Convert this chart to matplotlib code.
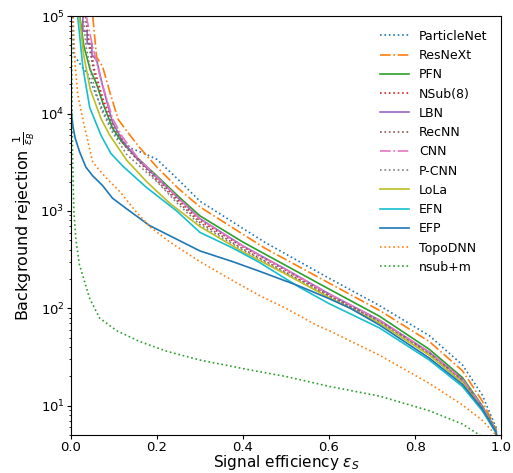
import matplotlib
matplotlib.use('Agg')
import matplotlib.pyplot as plt

# values: signal efficiency and background rejection
eps_pn = [0.004, 0.006, 0.012, 0.023, 0.04, 0.06, 0.085, 0.11, 0.14, 0.17, 0.2, 0.25, 0.3, 0.45, 0.6, 0.717, 0.833, 0.91, 0.956, 0.988, 1.0]
rej_pn = [200000, 40000, 37000, 31600, 25000, 15000, 8500, 5500, 4400, 3900, 3390, 2090, 1260, 479, 204, 107, 52.5, 26.3, 12.9, 6.0, 1.0]

eps_resnext = [0.045, 0.051, 0.06, 0.074, 0.09, 0.11, 0.13, 0.16, 0.2, 0.25, 0.3, 0.45, 0.6, 0.717, 0.833, 0.91, 0.956, 0.988, 1.0]
rej_resnext = [200000, 100000, 38000, 30200, 17000, 8710, 6610, 4470, 2820, 1700, 1100, 417, 182, 95.5, 45.7, 22.9, 11.2, 5.75, 1.0]

eps_pfn = [0.018, 0.021, 0.03, 0.045, 0.06, 0.075, 0.097, 0.12, 0.153, 0.2, 0.25, 0.3, 0.4, 0.5, 0.6, 0.717, 0.833, 0.91, 0.956, 0.988, 1.0]
rej_pfn = [158000, 100000, 50100, 28200, 20000, 12600, 7080, 5010, 3550, 2290, 1410, 891, 479, 275, 158, 83.2, 38, 19.5, 10, 5.6, 1.0]

eps_nsub8 = [0.03, 0.04, 0.055, 0.075, 0.1, 0.13, 0.16, 0.2, 0.25, 0.3, 0.4, 0.5, 0.6, 0.717, 0.833, 0.91, 0.956, 0.988, 1.0]
rej_nsub8 = [158000, 63100, 28200, 14100, 7590, 4570, 3310, 2140, 1290, 794, 427, 245, 138, 74.1, 34.7, 18.2, 9.5, 5.5, 1.0]

eps_lbn = [0.028, 0.028, 0.038, 0.038, 0.049, 0.049, 0.06, 0.074, 0.097, 0.12, 0.153, 0.2, 0.25, 0.3, 0.4, 0.5, 0.6, 0.717, 0.833, 0.91, 0.956, 0.988, 1.0]
rej_lbn = [158000, 70000, 70000, 52000, 52000, 40000, 35500, 19100, 8130, 5250, 3470, 2190, 1350, 832, 437, 251, 141, 75.9, 35.5, 18.6, 9.8, 5.5, 1.0]

eps_recnn = [0.03, 0.04, 0.055, 0.075, 0.1, 0.13, 0.16, 0.2, 0.25, 0.3, 0.4, 0.5, 0.6, 0.717, 0.833, 0.91, 0.956, 0.988, 1.0]
rej_recnn = [158000, 56200, 25100, 12600, 7080, 4370, 3160, 2040, 1230, 759, 407, 234, 135, 74.1, 34.7, 18.2, 9.5, 5.5, 1.0]

eps_cnn = [0.033, 0.036, 0.05, 0.07, 0.097, 0.12, 0.153, 0.2, 0.25, 0.3, 0.4, 0.5, 0.6, 0.717, 0.833, 0.91, 0.956, 0.988, 1.0]
rej_cnn = [158000, 100000, 50100, 22400, 8910, 5750, 3630, 2240, 1350, 832, 437, 251, 141, 75.9, 35.5, 18.6, 9.8, 5.5, 1.0]

eps_pcnn = [0.025, 0.035, 0.05, 0.07, 0.095, 0.13, 0.17, 0.2, 0.25, 0.3, 0.4, 0.5, 0.6, 0.717, 0.833, 0.91, 0.956, 0.988, 1.0]
rej_pcnn = [158000, 50100, 22400, 11200, 6610, 3800, 2630, 2000, 1170, 724, 398, 229, 132, 72.4, 33.9, 17.8, 9.3, 5.4, 1.0]

eps_lola = [0.018, 0.02, 0.03, 0.045, 0.07, 0.09, 0.13, 0.176, 0.23, 0.3, 0.4, 0.5, 0.6, 0.717, 0.833, 0.91, 0.956, 0.988, 1.0]
rej_lola = [158000, 100000, 39800, 17800, 8910, 6030, 3310, 2000, 1200, 692, 380, 224, 129, 70.8, 33.1, 17.4, 9.3, 5.4, 1.0]

eps_efn = [0.014, 0.016, 0.028, 0.044, 0.07, 0.093, 0.121, 0.176, 0.246, 0.3, 0.376, 0.439, 0.53, 0.6, 0.717, 0.833, 0.91, 0.956, 0.988, 1.0]
rej_efn = [158000, 100000, 30000, 11500, 6000, 3900, 2880, 1740, 1000, 603, 417, 295, 166, 112, 63.1, 29.5, 15.8, 8.9, 5.25, 1.0]

eps_efp = [0.0, 0.005, 0.01, 0.021, 0.035, 0.051, 0.074, 0.097, 0.13, 0.183, 0.246, 0.3, 0.376, 0.439, 0.53, 0.6, 0.65, 0.717, 0.833, 0.91, 0.956, 0.988, 1.0]
rej_efp = [11700, 7410, 5620, 3980, 2820, 2290, 1820, 1350, 1050, 708, 513, 389, 302, 240, 170, 126, 100, 67.6, 30.9, 16.6, 9.3, 5.4, 1.0]

eps_topo = [0.004, 0.009, 0.016, 0.03, 0.051, 0.08, 0.114, 0.15, 0.183, 0.23, 0.3, 0.37, 0.439, 0.5, 0.57, 0.601, 0.717, 0.833, 0.91, 0.956, 0.988, 1.0]
rej_topo = [158000, 35500, 15800, 7940, 3160, 2240, 1580, 1000, 692, 479, 302, 200, 135, 100, 67.6, 58.9, 33.1, 17.0, 10.2, 7.1, 5.0, 1.0]

eps_nsubm = [0.0005, 0.002, 0.004, 0.007, 0.012, 0.02, 0.044, 0.067, 0.107, 0.16, 0.223, 0.3, 0.415, 0.5, 0.601, 0.717, 0.833, 0.91, 0.95, 1.0]
rej_nsubm = [158000, 31600, 3980, 1000, 501, 282, 126, 79.4, 58.9, 45.7, 36.3, 29.5, 23.4, 20.0, 15.8, 12.6, 8.9, 6.5, 5.0, 1.0]

fig = plt.figure(figsize=(5.13, 4.73), dpi=100)
ax = fig.add_axes([0.138, 0.08, 0.839, 0.886])

lw = 1.2
ax.plot(eps_pn, rej_pn, color='C0', ls=':', lw=lw, label='ParticleNet')
ax.plot(eps_resnext, rej_resnext, color='C1', ls='-.', lw=lw, label='ResNeXt')
ax.plot(eps_pfn, rej_pfn, color='C2', ls='-', lw=lw, label='PFN')
ax.plot(eps_nsub8, rej_nsub8, color='C3', ls=':', lw=lw, label='NSub(8)')
ax.plot(eps_lbn, rej_lbn, color='C4', ls='-', lw=lw, label='LBN')
ax.plot(eps_recnn, rej_recnn, color='C5', ls=':', lw=lw, label='RecNN')
ax.plot(eps_cnn, rej_cnn, color='C6', ls='-.', lw=lw, label='CNN')
ax.plot(eps_pcnn, rej_pcnn, color='C7', ls=':', lw=lw, label='P-CNN')
ax.plot(eps_lola, rej_lola, color='C8', ls='-', lw=lw, label='LoLa')
ax.plot(eps_efn, rej_efn, color='C9', ls='-', lw=lw, label='EFN')
ax.plot(eps_efp, rej_efp, color='C0', ls='-', lw=lw, label='EFP')
ax.plot(eps_topo, rej_topo, color='C1', ls=':', lw=lw, label='TopoDNN')
ax.plot(eps_nsubm, rej_nsubm, color='C2', ls=':', lw=lw, label='nsub+m')

ax.set_yscale('log')
ax.set_xlim(0, 1)
ax.set_ylim(5, 1e5)
ax.tick_params(which='major', labelsize=9.5, length=3, pad=1.5)
ax.tick_params(which='minor', length=1.8)
ax.set_xlabel(r'Signal efficiency $\varepsilon_S$', fontsize=11, labelpad=-1)
ax.set_ylabel(r'Background rejection $\frac{1}{\varepsilon_B}$', fontsize=11.5, labelpad=2)
ax.legend(loc='upper right', frameon=False, fontsize=9, handlelength=2.3,
          handletextpad=0.8, labelspacing=0.5, borderaxespad=0.7)

plt.savefig('out.png', dpi=100)
